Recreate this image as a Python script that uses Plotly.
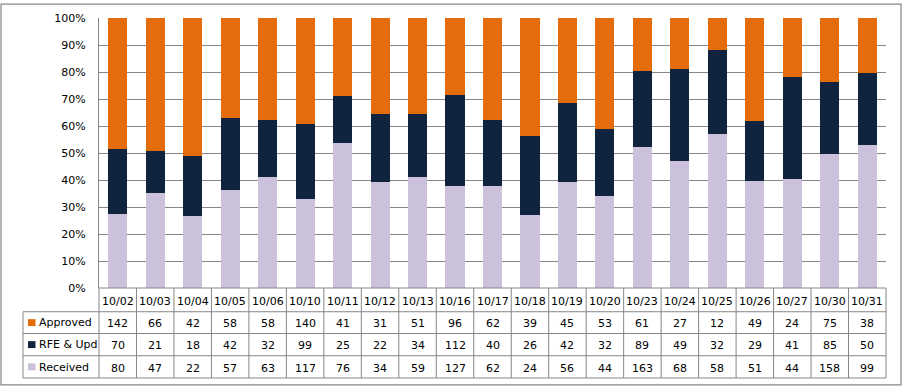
import plotly.graph_objects as go

categories = ["10/02", "10/03", "10/04", "10/05", "10/06", "10/10", "10/11", "10/12", "10/13", "10/16",
              "10/17", "10/18", "10/19", "10/20", "10/23", "10/24", "10/25", "10/26", "10/27", "10/30", "10/31"]
approved = [142, 66, 42, 58, 58, 140, 41, 31, 51, 96, 62, 39, 45, 53, 61, 27, 12, 49, 24, 75, 38]
rfe_upd = [70, 21, 18, 42, 32, 99, 25, 22, 34, 112, 40, 26, 42, 32, 89, 49, 32, 29, 41, 85, 50]
received = [80, 47, 22, 57, 63, 117, 76, 34, 59, 127, 62, 24, 56, 44, 163, 68, 58, 51, 44, 158, 99]
series_names = ["Approved", "RFE & Upd", "Received"]
y_ticks = [0, 10, 20, 30, 40, 50, 60, 70, 80, 90, 100]

C_APP = "#E46C0A"
C_RFE = "#10243F"
C_REC = "#CCC1DA"
GRID = "#868686"
FONT = "DejaVu Sans"

W, H = 903, 388
L, R, T, B = 99, 886, 15, 288
N = len(categories)

totals = [a + b + c for a, b, c in zip(approved, rfe_upd, received)]
pct = lambda vals: [100.0 * v / t for v, t in zip(vals, totals)]

fig = go.Figure()
for name, vals, col in [("Received", received, C_REC), ("RFE & Upd", rfe_upd, C_RFE), ("Approved", approved, C_APP)]:
    fig.add_trace(go.Bar(x=categories, y=pct(vals), name=name, marker=dict(color=col, line=dict(width=0)),
                         showlegend=False, hoverinfo="x+y+name"))

def px_x(p):
    return (p - L) / (R - L)

def px_y(p):
    return (B - p) / (B - T)

shapes = []
annotations = []
line = dict(color=GRID, width=1)

# table row boundaries (pixels)
rows = [288, 312, 334, 356.5, 379]
leg_left = 23
# horizontal lines
shapes.append(dict(type="line", xref="paper", yref="paper", x0=0, x1=1, y0=px_y(rows[0]), y1=px_y(rows[0]), line=line))
for r in rows[1:]:
    shapes.append(dict(type="line", xref="paper", yref="paper", x0=px_x(leg_left), x1=1, y0=px_y(r), y1=px_y(r), line=line))
# vertical lines
for i in range(N + 1):
    shapes.append(dict(type="line", xref="paper", yref="paper", x0=i / N, x1=i / N, y0=px_y(rows[0]), y1=px_y(rows[-1]), line=line))
shapes.append(dict(type="line", xref="paper", yref="paper", x0=px_x(leg_left), x1=px_x(leg_left),
                   y0=px_y(rows[1]), y1=px_y(rows[-1]), line=line))
# outer border
shapes.append(dict(type="rect", xref="paper", yref="paper", x0=px_x(1), x1=px_x(901), y0=px_y(1), y1=px_y(386),
                   line=dict(color=GRID, width=1.2)))

# category labels
for i, c in enumerate(categories):
    annotations.append(dict(x=(i + 0.5) / N, y=px_y(301.5), xref="paper", yref="paper",
                            text=c, showarrow=False, font=dict(family=FONT, size=11, color="#000"),
                            xanchor="center", yanchor="middle"))

table = [(series_names[0], approved, C_APP), (series_names[1], rfe_upd, C_RFE), (series_names[2], received, C_REC)]
for k, (name, vals, col) in enumerate(table):
    yc = (rows[k + 1] + rows[k + 2]) / 2
    shapes.append(dict(type="rect", xref="paper", yref="paper", x0=px_x(28), x1=px_x(35.5),
                       y0=px_y(yc - 3.5), y1=px_y(yc + 3.5), line=dict(width=0), fillcolor=col))
    annotations.append(dict(x=px_x(37), y=px_y(yc + 0.2), xref="paper", yref="paper", text=name, showarrow=False,
                            font=dict(family=FONT, size=11, color="#000"), xanchor="left", yanchor="middle"))
    for i, v in enumerate(vals):
        annotations.append(dict(x=(i + 0.5) / N, y=px_y(yc + 1.2), xref="paper", yref="paper", text=str(v),
                                showarrow=False, font=dict(family=FONT, size=11, color="#000"),
                                xanchor="center", yanchor="middle"))

fig.update_layout(
    width=W, height=H,
    margin=dict(l=L, r=W - R, t=T, b=H - B),
    paper_bgcolor="white", plot_bgcolor="white",
    barmode="stack", bargap=0.49,
    font=dict(family=FONT, size=11, color="#000"),
    xaxis=dict(showticklabels=False, showgrid=False, zeroline=False, showline=False, ticks="",
               range=[-0.5, N - 0.5], fixedrange=True),
    yaxis=dict(range=[0, 100], tickvals=y_ticks, ticktext=[f"{t}%" for t in y_ticks],
               showgrid=True, gridcolor=GRID, gridwidth=1, zeroline=False,
               showline=True, linecolor=GRID, linewidth=1, ticks="", ticklabelstandoff=10,
               tickfont=dict(family=FONT, size=11, color="#000"), fixedrange=True),
    shapes=shapes, annotations=annotations,
)

fig.write_html("out.html", config={"displayModeBar": False},
               post_script="document.body.style.margin='0';document.body.style.overflow='hidden';")
